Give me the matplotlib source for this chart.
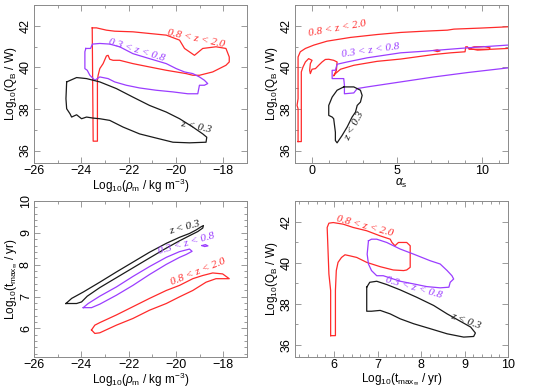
import numpy as np
import matplotlib
matplotlib.use('Agg')
import matplotlib.pyplot as plt
from matplotlib.ticker import MultipleLocator

plt.rcParams['font.family'] = ['Liberation Sans', 'DejaVu Sans']
plt.rcParams['mathtext.fontset'] = 'custom'
plt.rcParams['mathtext.rm'] = 'Liberation Sans'
plt.rcParams['mathtext.it'] = 'Liberation Sans:italic'

ROJO = '#ff2a2a'
VIOLETA = '#9b3dff'
NEGRO = '#1a1a1a'
GRIS = '#8a8a8a'

################################
# Panel 1: log rho_m vs log Q_B
rho_q_hi_x = [-23.54, -23.36, -22.94, -22.59, -21.82, -21.12, -20.41, -19.85, -19.64, -19.22,
              -18.87, -18.31, -17.89, -17.75, -17.75, -17.89, -18.17, -18.45, -19.01, -19.29,
              -19.57, -20.41, -21.12, -21.82, -22.38, -22.66, -22.80, -22.87, -22.94, -23.08,
              -23.22, -23.29, -23.32, -23.32, -23.50, -23.54]
rho_q_hi_y = [41.90, 41.90, 41.79, 41.74, 41.71, 41.63, 41.55, 41.31, 40.91, 40.58,
              40.91, 40.99, 40.91, 40.50, 40.26, 40.10, 39.94, 39.78, 39.62, 39.62,
              39.70, 39.86, 40.02, 40.18, 40.34, 40.34, 40.39, 40.58, 40.55, 40.18,
              39.94, 39.62, 39.38, 36.45, 36.45, 41.90]
rho_q_mid_x = [-23.81, -23.61, -23.53, -23.22, -22.80, -22.38, -21.82, -21.12, -20.41, -19.99,
               -19.64, -19.29, -19.01, -18.80, -18.66, -18.80, -19.01, -19.08, -19.50, -20.13,
               -20.84, -21.54, -22.10, -22.59, -22.87, -23.22, -23.43, -23.64, -23.75, -23.85,
               -23.85, -23.81]
rho_q_mid_y = [40.91, 40.91, 41.12, 41.15, 41.12, 40.99, 40.66, 40.42, 40.18, 39.94,
               39.78, 39.70, 39.54, 39.38, 39.22, 39.14, 39.14, 38.73, 38.73, 38.82,
               38.90, 39.01, 39.14, 39.30, 39.46, 39.54, 39.38, 39.62, 39.86, 39.94,
               40.75, 40.91]
rho_q_lo_x = [-24.62, -24.20, -23.78, -23.22, -22.52, -21.82, -21.12, -20.41, -19.85, -19.29,
              -18.87, -18.70, -18.73, -19.43, -20.13, -20.84, -21.54, -22.24, -22.80, -23.22,
              -23.50, -23.78, -23.99, -24.20, -24.41, -24.48, -24.62, -24.65, -24.62]
rho_q_lo_y = [39.30, 39.51, 39.46, 39.30, 38.98, 38.57, 38.17, 37.85, 37.53, 37.13,
              36.80, 36.64, 36.40, 36.37, 36.40, 36.60, 36.80, 37.13, 37.45, 37.53,
              37.56, 37.61, 37.53, 37.72, 37.61, 37.77, 38.01, 38.49, 39.30]

################################
# Panel 2: alpha_s vs log Q_B
alfa_q_hi_x = [-0.82, -0.82, -0.88, -0.82, -0.82, -0.69, -0.39, 0.10, 0.88, 2.25, 3.82, 5.20,
               6.57, 7.94, 8.33, 9.90, 11.47, 12.25, 12.25, 11.47, 10.49, 9.22, 9.12, 9.02,
               8.98, 8.14, 7.16, 5.20, 3.82, 2.45, 1.67, 1.37, 1.27, 1.43, 1.47, 1.27,
               0.98, 0.78, 0.59, 0.39, 0.20, 0.00, -0.10, -0.14, -0.10, 0.00, -0.20, -0.39,
               -0.53, -0.63, -0.63, -0.82]
alfa_q_hi_y = [36.43, 38.01, 38.17, 38.49, 40.50, 40.75, 40.91, 41.07, 41.26, 41.44, 41.58, 41.68,
               41.74, 41.79, 41.84, 41.89, 41.95, 41.97, 40.91, 40.91, 40.87, 40.87, 40.99, 40.99,
               40.75, 40.70, 40.62, 40.40, 40.29, 40.10, 39.91, 39.70, 39.59, 39.86, 40.26, 40.34,
               40.39, 40.38, 40.26, 40.10, 39.94, 39.91, 39.70, 39.86, 40.18, 40.34, 40.42, 40.26,
               40.02, 39.78, 36.43, 36.43]
alfa_q_hi_isla_x = [9.22, 9.51, 10.10, 10.45, 10.39, 9.71, 9.22]
alfa_q_hi_isla_y = [40.91, 40.99, 41.00, 40.94, 40.86, 40.83, 40.91]
alfa_q_hi_punto_x = [7.16, 7.35, 7.51, 7.35, 7.16]
alfa_q_hi_punto_y = [40.81, 40.84, 40.79, 40.76, 40.81]
alfa_q_mid_x = [12.25, 11.45, 9.12, 6.65, 5.20, 3.24, 2.06, 1.47, 1.37, 1.18, 1.18, 1.86,
                1.90, 1.90, 2.45, 2.65, 3.24, 5.20, 7.16, 9.12, 11.45, 12.25]
alfa_q_mid_y = [41.08, 41.07, 40.94, 40.78, 40.70, 40.46, 40.26, 40.15, 39.86, 39.86, 39.46, 39.46,
                39.14, 38.73, 38.77, 38.98, 39.06, 39.30, 39.54, 39.75, 39.97, 39.99]
alfa_q_lo_x = [1.86, 2.45, 2.84, 2.94, 2.84, 2.65, 2.55, 2.35, 2.06, 1.76, 1.47, 1.37,
               1.37, 1.27, 1.18, 0.98, 0.98, 1.18, 1.47, 1.86]
alfa_q_lo_y = [39.06, 39.06, 38.90, 38.65, 38.33, 38.17, 37.85, 37.61, 37.13, 36.72, 36.37, 36.48,
               36.88, 37.53, 37.61, 37.69, 38.17, 38.57, 38.90, 39.06]

################################
# Panel 3: log rho_m vs log t_max
rho_t_lo_x = [-24.65, -24.41, -23.92, -23.22, -22.52, -21.82, -21.12, -20.41, -19.85, -19.43,
              -19.15, -18.94, -18.84, -18.87, -19.08, -19.43, -19.85, -20.41, -21.12, -21.82,
              -22.52, -23.22, -23.75, -23.99, -24.20, -24.65]
rho_t_lo_y = [6.78, 6.94, 7.14, 7.45, 7.77, 8.08, 8.39, 8.67, 8.86, 8.98,
              9.09, 9.19, 9.23, 9.15, 9.04, 8.91, 8.75, 8.52, 8.21, 7.90,
              7.59, 7.28, 7.01, 6.83, 6.78, 6.78]
rho_t_mid_x = [-23.92, -23.71, -23.22, -22.52, -21.82, -21.12, -20.41, -19.85, -19.43, -19.32,
               -19.57, -19.85, -20.41, -21.12, -21.82, -22.52, -23.22, -23.57, -23.92]
rho_t_mid_y = [6.65, 6.78, 7.01, 7.30, 7.63, 7.94, 8.23, 8.41, 8.49, 8.42,
               8.32, 8.23, 8.01, 7.69, 7.35, 7.04, 6.76, 6.65, 6.65]
rho_t_mid_punto_x = [-18.90, -18.76, -18.65, -18.79, -18.90]
rho_t_mid_punto_y = [8.60, 8.63, 8.59, 8.57, 8.60]
rho_t_hi_x = [-23.57, -23.43, -23.22, -22.52, -21.82, -21.12, -20.41, -19.85, -19.29, -18.87,
              -18.45, -18.03, -17.75, -18.31, -18.73, -19.29, -19.85, -20.41, -21.12, -21.82,
              -22.52, -23.22, -23.43, -23.57]
rho_t_hi_y = [5.95, 6.10, 6.18, 6.42, 6.68, 6.94, 7.19, 7.35, 7.56, 7.66,
              7.74, 7.71, 7.56, 7.56, 7.45, 7.19, 6.99, 6.78, 6.57, 6.31,
              6.10, 5.86, 5.84, 5.95]

################################
# Panel 4: log t_max vs log Q_B
t_q_hi_x = [5.92, 5.92, 5.88, 5.86, 5.84, 5.88, 5.98, 6.21, 6.44, 6.75, 7.06, 7.29, 7.33,
            7.40, 7.48, 7.67, 7.75, 7.75, 7.67, 7.60, 7.36, 7.06, 6.75, 6.52, 6.36, 6.25,
            6.17, 6.09, 6.05, 6.03, 6.03, 5.92]
t_q_hi_y = [36.44, 38.64, 39.44, 40.58, 41.71, 41.92, 41.95, 41.87, 41.71, 41.55, 41.30, 41.14, 40.98,
            40.82, 40.98, 40.98, 40.82, 39.77, 39.64, 39.61, 39.64, 39.80, 40.01, 40.25, 40.33, 40.38,
            40.25, 40.01, 39.61, 38.64, 36.44, 36.44]
t_q_mid_x = [6.79, 6.86, 6.98, 7.21, 7.52, 7.83, 8.21, 8.44, 8.60, 8.71, 8.75, 8.67,
             8.64, 8.44, 8.13, 7.83, 7.52, 7.29, 7.13, 6.98, 6.86, 6.79, 6.76, 6.79]
t_q_mid_y = [41.06, 41.14, 41.14, 40.98, 40.66, 40.41, 40.09, 39.93, 39.61, 39.36, 39.20, 39.04,
             38.80, 38.77, 38.83, 38.96, 39.09, 39.25, 39.36, 39.36, 39.61, 39.93, 40.41, 41.06]
t_q_lo_x = [6.75, 6.82, 6.98, 7.21, 7.52, 7.90, 8.29, 8.60, 8.87, 9.14, 9.25, 9.21,
            8.98, 8.60, 8.21, 7.83, 7.52, 7.29, 7.06, 6.86, 6.75, 6.75]
t_q_lo_y = [38.80, 39.04, 39.09, 38.93, 38.67, 38.31, 37.91, 37.50, 37.18, 36.86, 36.57, 36.40,
            36.37, 36.53, 36.78, 37.02, 37.26, 37.50, 37.67, 37.63, 37.63, 38.80]

etiquetas = ['0.8 < z < 2.0', '0.3 < z < 0.8', 'z < 0.3']

################################

fig = plt.figure(figsize=(5.34, 3.88), dpi=100)

W, H = 534., 388.
def ejes(izq, der, arr, aba):
    return fig.add_axes([izq / W, 1 - aba / H, (der - izq) / W, (aba - arr) / H])

ax1 = ejes(34, 247, 5, 163)
ax2 = ejes(295, 508, 5, 163)
ax3 = ejes(34, 247, 201, 357)
ax4 = ejes(295, 508, 201, 357)

TAM = 9
TAM_EJE = 8.5

def formato(ax, xlim, ylim, xmaj, xmin, ymaj, ymin):
    ax.set_xlim(xlim)
    ax.set_ylim(ylim)
    ax.xaxis.set_major_locator(MultipleLocator(xmaj))
    ax.xaxis.set_minor_locator(MultipleLocator(xmin))
    ax.yaxis.set_major_locator(MultipleLocator(ymaj))
    ax.yaxis.set_minor_locator(MultipleLocator(ymin))
    ax.tick_params(which='both', direction='in', top=True, right=True, color=GRIS,
                   width=0.6, labelsize=TAM, pad=1.5)
    ax.tick_params(which='major', length=4)
    ax.tick_params(which='minor', length=2)
    for lab in ax.get_yticklabels():
        lab.set_rotation(90)
        lab.set_va('center')
    for s in ax.spines.values():
        s.set_color(GRIS)
        s.set_linewidth(0.7)

def texto(ax, x, y, s, color, rot):
    ax.text(x, y, s, color=color, rotation=rot, ha='center', va='center',
            rotation_mode='anchor', family='Liberation Serif', style='italic', fontsize=8)

lw = 0.9

ax1.plot(rho_q_hi_x, rho_q_hi_y, color=ROJO, lw=lw)
ax1.plot(rho_q_mid_x, rho_q_mid_y, color=VIOLETA, lw=lw)
ax1.plot(rho_q_lo_x, rho_q_lo_y, color=NEGRO, lw=lw)
formato(ax1, (-26, -17), (35.4, 43), 2, 1, 2, 1)
ax1.set_xlabel(r'Log$_{10}$($\rho_{\rm m}$ / kg m$^{-3}$)', fontsize=TAM_EJE, labelpad=0)
ax1.set_ylabel(r'Log$_{10}$(Q$_{\rm B}$ / W)', fontsize=TAM_EJE, labelpad=1)
texto(ax1, -19.15, 41.39, etiquetas[0], ROJO, -12)
texto(ax1, -21.68, 40.83, etiquetas[1], VIOLETA, -17)
texto(ax1, -19.15, 37.13, etiquetas[2], NEGRO, -12)

ax2.plot(alfa_q_hi_x, alfa_q_hi_y, color=ROJO, lw=lw)
ax2.plot(alfa_q_hi_isla_x, alfa_q_hi_isla_y, color=ROJO, lw=lw)
ax2.plot(alfa_q_hi_punto_x, alfa_q_hi_punto_y, color=ROJO, lw=lw)
ax2.plot(alfa_q_mid_x, alfa_q_mid_y, color=VIOLETA, lw=lw)
ax2.plot(alfa_q_lo_x, alfa_q_lo_y, color=NEGRO, lw=lw)
formato(ax2, (-1, 11.5), (35.4, 43), 5, 1, 2, 1)
ax2.set_xlabel(r'$\alpha_{\rm s}$', fontsize=TAM_EJE, labelpad=0)
ax2.set_ylabel(r'Log$_{10}$(Q$_{\rm B}$ / W)', fontsize=TAM_EJE, labelpad=1)
texto(ax2, 1.47, 41.87, etiquetas[0], ROJO, 10)
texto(ax2, 3.43, 40.83, etiquetas[1], VIOLETA, 8)
texto(ax2, 2.49, 37.2, etiquetas[2], NEGRO, 62)

ax3.plot(rho_t_lo_x, rho_t_lo_y, color=NEGRO, lw=lw)
ax3.plot(rho_t_mid_x, rho_t_mid_y, color=VIOLETA, lw=lw)
ax3.plot(rho_t_mid_punto_x, rho_t_mid_punto_y, color=VIOLETA, lw=lw)
ax3.plot(rho_t_hi_x, rho_t_hi_y, color=ROJO, lw=lw)
formato(ax3, (-26, -17), (5.1, 10), 2, 1, 1, 0.2)
ax3.set_xlabel(r'Log$_{10}$($\rho_{\rm m}$ / kg m$^{-3}$)', fontsize=TAM_EJE, labelpad=0)
ax3.set_ylabel(r'Log$_{10}$(t$_{\rm max_\infty}$ / yr)', fontsize=TAM_EJE, labelpad=1)
texto(ax3, -19.64, 9.17, etiquetas[2], NEGRO, 15)
texto(ax3, -19.57, 8.65, etiquetas[1], VIOLETA, 16)
texto(ax3, -19.08, 7.77, etiquetas[0], ROJO, 22)

ax4.plot(t_q_hi_x, t_q_hi_y, color=ROJO, lw=lw)
ax4.plot(t_q_mid_x, t_q_mid_y, color=VIOLETA, lw=lw)
ax4.plot(t_q_lo_x, t_q_lo_y, color=NEGRO, lw=lw)
formato(ax4, (5.1, 10), (35.4, 43), 1, 0.2, 2, 1)
ax4.set_xlabel(r'Log$_{10}$(t$_{\rm max_\infty}$ / yr)', fontsize=TAM_EJE, labelpad=0)
ax4.set_ylabel(r'Log$_{10}$(Q$_{\rm B}$ / W)', fontsize=TAM_EJE, labelpad=1)
texto(ax4, 6.71, 41.79, etiquetas[0], ROJO, -15)
texto(ax4, 7.83, 38.80, etiquetas[1], VIOLETA, -16)
texto(ax4, 9.02, 37.15, etiquetas[2], NEGRO, -20)

plt.savefig('out.png', dpi=100)
